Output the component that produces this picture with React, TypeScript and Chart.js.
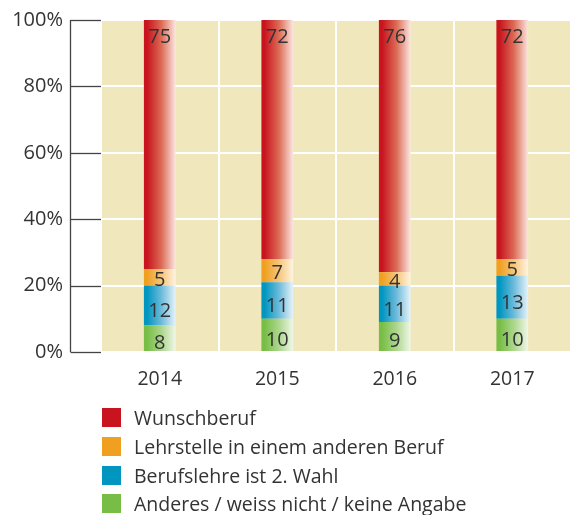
import React, { useEffect, useRef } from "react";
import { Chart, registerables } from "chart.js";

Chart.register(...registerables);

const years = ["2014", "2015", "2016", "2017"];
const anderes = [8, 10, 9, 10];
const zweiteWahl = [12, 11, 11, 13];
const andererBeruf = [5, 7, 4, 5];
const wunschberuf = [75, 72, 76, 72];
const yTicks = [0, 20, 40, 60, 80, 100];

const seriesNames = [
  "Wunschberuf",
  "Lehrstelle in einem anderen Beruf",
  "Berufslehre ist 2. Wahl",
  "Anderes / weiss nicht / keine Angabe",
];
const baseColors = ["#C8141E", "#F0A020", "#0096C0", "#78BE46"];
const midColors = ["#DC6A55", "#F6C57A", "#6CBADA", "#ACD68C"];
const lightColors = ["#FBE6E0", "#FFF4E0", "#E6F3F9", "#F0F7E8"];

const FONT = "'Open Sans', 'DejaVu Sans', sans-serif";
const TEXT = "#333333";
const BAR_PCT = 0.27;

function gradientFor(idx: number) {
  return (ctx: any) => {
    const chart = ctx.chart;
    const xs = chart.scales && chart.scales.x;
    if (!xs || ctx.type !== "data" || !chart.chartArea) return baseColors[idx];
    const cx = xs.getPixelForValue(ctx.dataIndex);
    const cw = xs.getPixelForValue(1) - xs.getPixelForValue(0);
    const hw = (cw * BAR_PCT) / 2;
    const g = chart.ctx.createLinearGradient(cx - hw, 0, cx + hw, 0);
    g.addColorStop(0, baseColors[idx]);
    g.addColorStop(0.1, baseColors[idx]);
    g.addColorStop(0.55, midColors[idx]);
    g.addColorStop(1, lightColors[idx]);
    return g;
  };
}

const bgPlugin = {
  id: "bgPlugin",
  beforeDraw(chart: any) {
    const { ctx, chartArea } = chart;
    ctx.save();
    ctx.fillStyle = "#F1E7BD";
    ctx.fillRect(chartArea.left, chartArea.top, chartArea.right - chartArea.left, chartArea.bottom - chartArea.top);
    ctx.restore();
  },
  afterDraw(chart: any) {
    const { ctx, chartArea } = chart;
    const ys = chart.scales.y;
    const axisX = 70.5;
    ctx.save();
    ctx.strokeStyle = "#444444";
    ctx.lineWidth = 1.3;
    ctx.beginPath();
    ctx.moveTo(axisX, ys.getPixelForValue(100));
    ctx.lineTo(axisX, ys.getPixelForValue(0));
    ctx.stroke();
    yTicks.forEach((t) => {
      const y = Math.round(ys.getPixelForValue(t)) + 0.5;
      ctx.beginPath();
      ctx.moveTo(axisX, y);
      ctx.lineTo(chartArea.left, y);
      ctx.stroke();
    });
    ctx.restore();
  },
};

const labelOffsets = [5, 6, 3];

const labelPlugin = {
  id: "labelPlugin",
  afterDatasetsDraw(chart: any) {
    const { ctx } = chart;
    ctx.save();
    ctx.font = `20px ${FONT}`;
    ctx.fillStyle = TEXT;
    ctx.textAlign = "center";
    ctx.textBaseline = "middle";
    chart.data.datasets.forEach((ds: any, di: number) => {
      const meta = chart.getDatasetMeta(di);
      meta.data.forEach((bar: any, i: number) => {
        const v = ds.data[i];
        const top = Math.min(bar.y, bar.base);
        const bottom = Math.max(bar.y, bar.base);
        let y;
        if (di === 3) {
          y = top + 17;
        } else {
          y = (top + bottom) / 2 + labelOffsets[di];
        }
        ctx.fillText(String(v), bar.x, y);
      });
    });
    ctx.restore();
  },
};

function Legend() {
  const tops = [408, 437, 466, 494];
  return (
    <>
      {seriesNames.map((name, i) => (
        <div
          key={name}
          style={{
            position: "absolute",
            left: 102,
            top: tops[i],
            height: 19,
            display: "flex",
            alignItems: "center",
            whiteSpace: "nowrap",
          }}
        >
          <div style={{ width: 19, height: 19, background: baseColors[i] }} />
          <span
            style={{
              marginLeft: 13,
              font: `19.5px ${FONT}`,
              color: TEXT,
              lineHeight: "19px",
            }}
          >
            {name}
          </span>
        </div>
      ))}
    </>
  );
}

export default function App() {
  const ref = useRef<HTMLCanvasElement | null>(null);
  useEffect(() => {
    if (!ref.current) return;
    const dsData = [wunschberuf, andererBeruf, zweiteWahl, anderes];
    const order = [3, 2, 1, 0];
    const chart = new Chart(ref.current, {
      type: "bar",
      data: {
        labels: years,
        datasets: order.map((si) => ({
          label: seriesNames[si],
          data: dsData[si],
          backgroundColor: gradientFor(si),
          borderWidth: 0,
          barPercentage: BAR_PCT,
          categoryPercentage: 1,
        })),
      },
      options: {
        animation: false,
        responsive: false,
        maintainAspectRatio: false,
        layout: { padding: { top: 20, right: 0, left: 0, bottom: 0 } },
        plugins: { legend: { display: false }, tooltip: { enabled: false } },
        scales: {
          x: {
            stacked: true,
            grid: { color: "#FFFFFF", lineWidth: 2, drawTicks: false, offset: true },
            border: { display: false },
            ticks: { color: TEXT, font: { family: FONT, size: 19.5 }, padding: 16 },
            afterFit: (s: any) => {
              s.height = 163;
              s.paddingLeft = 0;
              s.paddingRight = 0;
            },
          },
          y: {
            stacked: true,
            min: 0,
            max: 100,
            grid: { color: "#FFFFFF", lineWidth: 2, drawTicks: false },
            border: { display: false },
            ticks: {
              stepSize: 20,
              color: TEXT,
              font: { family: FONT, size: 20 },
              padding: 38,
              callback: (v: any) => v + "%",
            },
            afterFit: (s: any) => {
              s.width = 101;
              s.paddingTop = 0;
              s.paddingBottom = 0;
            },
          },
        },
      },
      plugins: [bgPlugin, labelPlugin],
    });
    return () => chart.destroy();
  }, []);
  return (
    <div style={{ position: "absolute", left: 0, top: 0, width: 571, height: 515 }}>
      <canvas ref={ref} width={571} height={515} style={{ position: "absolute", left: 0, top: 0 }} />
      <Legend />
    </div>
  );
}
